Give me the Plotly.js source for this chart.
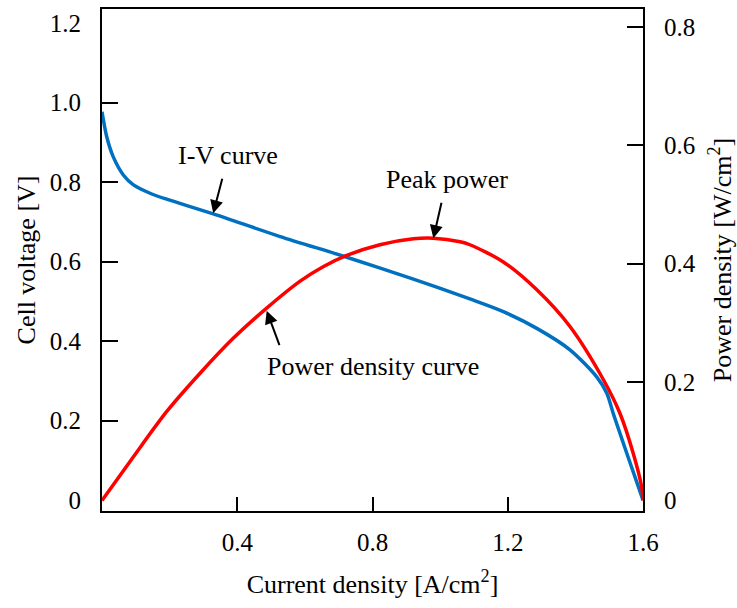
<!DOCTYPE html>
<html>
<head>
<meta charset="utf-8">
<script src="https://cdn.plot.ly/plotly-3.0.1.min.js"></script>
<style>html,body{margin:0;padding:0;background:#fff;}#chart{width:737px;height:608px;}</style>
</head>
<body>
<div id="chart"></div>
<script>
// I-V curve (left axis)
var currentIV = [0, 0.014, 0.033, 0.063, 0.093, 0.142, 0.191, 0.329, 0.527, 0.724, 0.921, 1.088, 1.187, 1.286, 1.384, 1.463, 1.493, 1.512, 1.552, 1.6];
var voltage   = [0.977, 0.914, 0.864, 0.818, 0.793, 0.772, 0.757, 0.720, 0.663, 0.611, 0.556, 0.506, 0.474, 0.432, 0.378, 0.310, 0.269, 0.218, 0.118, 0];
// Power density curve (right axis)
var currentP = [0, 0.093, 0.191, 0.290, 0.388, 0.487, 0.587, 0.654, 0.724, 0.822, 0.921, 0.980, 1.059, 1.088, 1.187, 1.286, 1.384, 1.483, 1.532, 1.571, 1.596, 1.6];
var power    = [0, 0.074, 0.150, 0.215, 0.274, 0.325, 0.371, 0.395, 0.414, 0.432, 0.442, 0.443, 0.437, 0.432, 0.403, 0.356, 0.294, 0.204, 0.147, 0.080, 0.023, 0];

// Tick labels / tick marks
var xTickVals = [0.4, 0.8, 1.2, 1.6];
var xTickText = ['0.4', '0.8', '1.2', '1.6'];
var yLabelVals = [0, 0.2, 0.4, 0.6, 0.8, 1.0, 1.2];
var yLabelText = ['0', '0.2', '0.4', '0.6', '0.8', '1.0', '1.2'];
var yTickMarks = [0.2, 0.4, 0.6, 0.8, 1.0];
var y2LabelVals = [0, 0.2, 0.4, 0.6, 0.8];
var y2LabelText = ['0', '0.2', '0.4', '0.6', '0.8'];
var y2TickMarks = [0.2, 0.4, 0.6, 0.8];

// Annotation labels
var labelIV = 'I-V curve';
var labelPeak = 'Peak power';
var labelPD = 'Power density curve';

var FONT = 'Liberation Serif';
var yRange = [-0.0274, 1.2355];
var y2Range = [-0.0177, 0.8302];

var traces = [
  {x: currentIV, y: voltage, type: 'scatter', mode: 'lines', yaxis: 'y',
   line: {color: '#0070C0', width: 3.5, shape: 'spline', smoothing: 0.8}, hoverinfo: 'skip'},
  {x: currentP, y: power, type: 'scatter', mode: 'lines', yaxis: 'y2',
   line: {color: '#FF0000', width: 3.5, shape: 'spline', smoothing: 0.8}, hoverinfo: 'skip'}
];

var tickFont = {family: FONT, size: 25, color: '#000'};
var textFont = {family: FONT, size: 26, color: '#000'};

var layout = {
  width: 737, height: 608,
  margin: {l: 102, r: 94, t: 9, b: 97},
  paper_bgcolor: '#fff', plot_bgcolor: '#fff',
  showlegend: false,
  font: {family: FONT, size: 25, color: '#000'},
  xaxis: {
    range: [0, 1.6], tickmode: 'array', tickvals: xTickVals, ticktext: xTickText,
    ticks: 'inside', ticklen: 14, tickwidth: 2, tickcolor: '#000',
    showline: true, linewidth: 2, linecolor: '#000', mirror: true,
    showgrid: false, zeroline: false, tickfont: tickFont, ticklabelstandoff: 8,
    title: {text: 'Current density [A/cm<sup>2</sup>]', font: textFont, standoff: 20}
  },
  yaxis: {
    range: yRange, tickmode: 'array', tickvals: yLabelVals, ticktext: yLabelText,
    ticks: '', showline: true, linewidth: 2, linecolor: '#000',
    showgrid: false, zeroline: false, tickfont: tickFont, ticklabelstandoff: 14,
    minor: {tickmode: 'array', tickvals: yTickMarks, ticks: 'inside', ticklen: 16, tickwidth: 2, tickcolor: '#000', showgrid: false},
    title: {text: 'Cell voltage [V]', font: textFont, standoff: 7}
  },
  yaxis2: {
    range: y2Range, overlaying: 'y', side: 'right', tickmode: 'array', tickvals: y2LabelVals, ticktext: y2LabelText,
    ticks: '', showline: true, linewidth: 2, linecolor: '#000',
    showgrid: false, zeroline: false, tickfont: tickFont, ticklabelstandoff: 14,
    minor: {tickmode: 'array', tickvals: y2TickMarks, ticks: 'inside', ticklen: 16, tickwidth: 2, tickcolor: '#000', showgrid: false},
    title: {text: 'Power density [W/cm<sup>2</sup>]', font: textFont, standoff: 18}
  },
  annotations: [
    {x: 0.329, y: 0.7215, xref: 'x', yref: 'y', ax: 0.374, ay: 0.868, axref: 'x', ayref: 'y',
     text: labelIV, font: textFont, showarrow: true, arrowhead: 2, arrowsize: 1.3, arrowwidth: 2,
     arrowcolor: '#000', standoff: 0, startstandoff: 8},
    {x: 0.980, y: 0.443, xref: 'x', yref: 'y2', ax: 1.0195, ay: 0.5414, axref: 'x', ayref: 'y2',
     text: labelPeak, font: textFont, showarrow: true, arrowhead: 2, arrowsize: 1.3, arrowwidth: 2,
     arrowcolor: '#000', standoff: 0, startstandoff: 7},
    {x: 0.8015, y: 0.226, xref: 'x', yref: 'y2', text: labelPD, showarrow: false, font: textFont},
    {x: 0.487, y: 0.3206, xref: 'x', yref: 'y2', ax: 0.5265, ay: 0.2598, axref: 'x', ayref: 'y2', text: '',
     showarrow: true, arrowhead: 2, arrowsize: 1.3, arrowwidth: 2, arrowcolor: '#000', standoff: 0}
  ]
};

Plotly.newPlot('chart', traces, layout, {staticPlot: true, displayModeBar: false});
</script>
</body>
</html>
